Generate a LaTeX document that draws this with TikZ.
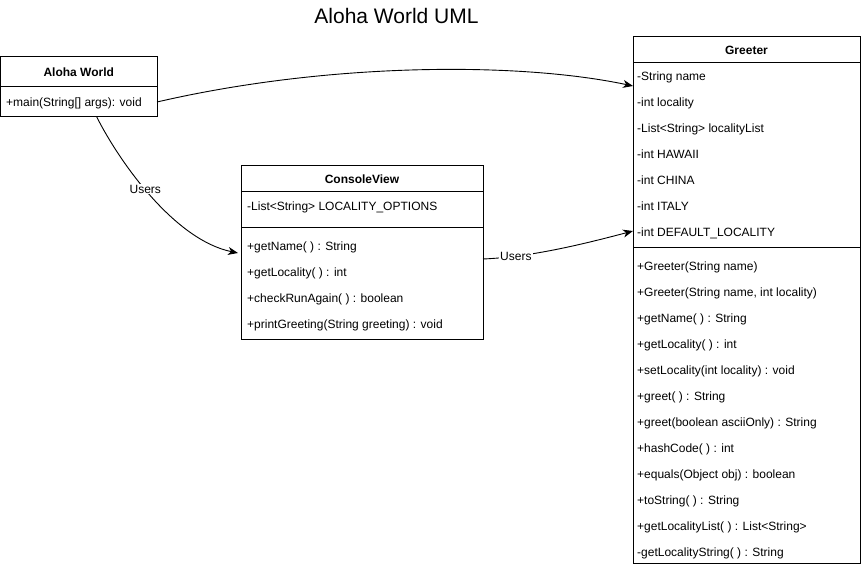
\documentclass[tikz,border=0pt]{standalone}
\usepackage{fontspec}
\setmainfont{Liberation Sans}
\usetikzlibrary{calc, arrows.meta}
\newcommand{\umlfont}{\fontsize{12}{14}\selectfont}
\newcommand{\classmembers}[4]{
\foreach \txt [count=\i] in {#4} {
\path (#2, {#3 + (\i - 1) * 26 + 4.3}) node[member] (#1\i) {\txt};
}
}

\begin{document}
\begin{tikzpicture}[
x=1pt, y=-1pt,
% class compartments
box/.style={draw, line width=1pt, inner sep=0, outer sep=0, anchor=north west},
head/.style={box, font=\umlfont\bfseries},
member/.style={anchor=base west, inner sep=0, font=\umlfont},
% associations
uses/.style={-{Stealth[length=10pt, width=8pt, inset=3pt]}, line width=0.9pt},
edgelabel/.style={fill=white, inner sep=1pt, font=\umlfont},
% title
title/.style={font=\fontsize{21}{25}\selectfont}
]

\useasboundingbox (0,0) rectangle (863,567);

% TITLE
\node[title] (title) at (396.5,15.7) {Aloha World UML};

% ALOHA WORLD
\node[head, minimum width=156.5pt, minimum height=30pt] (ahead) at (0.5,57) {Aloha World};
\node[box, minimum width=156.5pt, minimum height=30pt] (abody) at (ahead.south west) {};
\classmembers{aop}{6}{102}{+main(String[] args): void}

% CONSOLEVIEW
\node[head, minimum width=242pt, minimum height=26pt] (chead) at (241,166) {ConsoleView};
\node[box, minimum width=242pt, minimum height=36pt] (cattrs) at (chead.south west) {};
\node[box, minimum width=242pt, minimum height=111pt] (cops) at (cattrs.south west) {};
\classmembers{cattr}{247}{206}{-List<String> LOCALITY\_OPTIONS}
\classmembers{cop}{247}{246}{+getName( ) : String, +getLocality( ) : int, +checkRunAgain( ) : boolean, +printGreeting(String greeting) : void}

% GREETER
\node[head, minimum width=227pt, minimum height=26pt] (ghead) at (633,37) {Greeter};
\node[box, minimum width=227pt, minimum height=185pt] (gattrs) at (ghead.south west) {};
\node[box, minimum width=227pt, minimum height=315pt] (gops) at (gattrs.south west) {};
\classmembers{gattr}{637}{76.5}{-String name, -int locality, -List<String> localityList, -int HAWAII, -int CHINA, -int ITALY, -int DEFAULT\_LOCALITY}
\classmembers{gop}{637}{266}{+Greeter(String name), {+Greeter(String name, int locality)}, +getName( ) : String, +getLocality( ) : int, +setLocality(int locality) : void, +greet( ) : String, +greet(boolean asciiOnly) : String, +hashCode( ) : int, +equals(Object obj) : boolean, +toString( ) : String, +getLocalityList( ) : List<String>, -getLocalityString( ) : String}

% ASSOCIATIONS
\draw[uses] (abody.east) .. controls (330,62) and (520,62) .. ([yshift=69.5pt]gattrs.west);
\draw[uses] ([xshift=18pt]abody.south) .. controls (120,163) and (175,240) .. ([xshift=-3pt, yshift=30.5pt]cops.west) node[pos=0.45, edgelabel] (use1) {Users};
\draw[uses] ([yshift=24.5pt]cops.east) .. controls (530,257) and (580,245) .. ([yshift=-75.5pt]gattrs.west) node[pos=0.23, edgelabel] (use2) {Users};

\end{tikzpicture}
\end{document}
